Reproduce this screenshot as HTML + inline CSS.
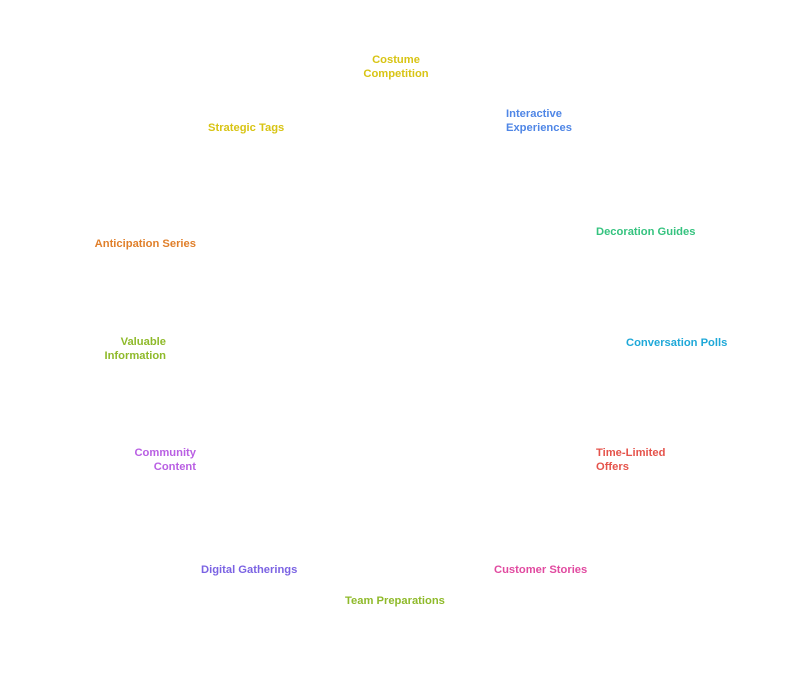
<!DOCTYPE html>
<html><head><meta charset="utf-8"><style>
body{margin:0;width:792px;height:697px;background:#fff;position:relative;overflow:hidden;font-family:"Liberation Sans",sans-serif;font-weight:bold;font-size:11.2px;line-height:14px}
.t{position:absolute;white-space:nowrap}
.c{text-align:center}.r{text-align:right}
</style></head><body>
<div class="t c" style="left:346px;top:53px;width:100px;color:#d8c414">Costume<br>Competition</div>
<div class="t" style="left:208px;top:121px;color:#d8c414">Strategic Tags</div>
<div class="t" style="left:506px;top:107px;color:#4f86e6">Interactive<br>Experiences</div>
<div class="t r" style="left:60px;top:237px;width:136px;color:#e07f2a">Anticipation Series</div>
<div class="t" style="left:596px;top:225px;color:#35c37f">Decoration Guides</div>
<div class="t r" style="left:60px;top:335px;width:106px;color:#8fba2a">Valuable<br>Information</div>
<div class="t" style="left:626px;top:336px;color:#1ea8d8">Conversation Polls</div>
<div class="t r" style="left:60px;top:446px;width:136px;color:#b95fe3">Community<br>Content</div>
<div class="t" style="left:596px;top:446px;color:#e5534b">Time-Limited<br>Offers</div>
<div class="t" style="left:201px;top:563px;color:#7b63e3">Digital Gatherings</div>
<div class="t" style="left:494px;top:563px;color:#e14aa0">Customer Stories</div>
<div class="t" style="left:345px;top:594px;color:#8fba2a">Team Preparations</div>
</body></html>
